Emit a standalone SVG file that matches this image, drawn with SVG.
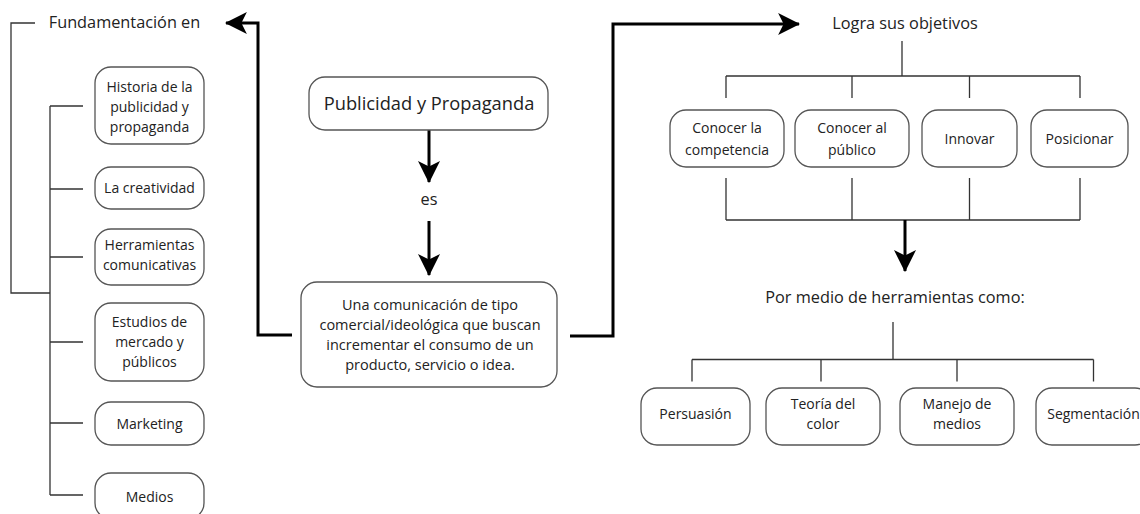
<svg xmlns="http://www.w3.org/2000/svg" width="1140" height="514" viewBox="0 0 1140 514">
<defs>
<marker id="ah" markerUnits="userSpaceOnUse" markerWidth="22" markerHeight="22" viewBox="0 0 20 20" refX="19" refY="10" orient="auto">
<path d="M0,0 L20,10 L0,20 L5,10 z" fill="#000"/>
</marker>
<style>
.box{fill:#fff;stroke:#555;stroke-width:1.3}
.t{font-family:"Open Sans","Noto Sans",sans-serif;font-size:14px;fill:#222;text-anchor:middle}
.h{font-family:"Open Sans","Noto Sans",sans-serif;font-size:16.3px;fill:#222;text-anchor:middle}
.thin{fill:none;stroke:#333;stroke-width:1.3}
.thick{fill:none;stroke:#000;stroke-width:3}
</style>
</defs>
<rect width="1140" height="514" fill="#fff"/>
<g id="connectors">
<path class="thin" d="M35,23 H11 V293 H50"/>
<path class="thin" d="M50,106 V495 M50,106 H83 M50,189 H83 M50,257 H83 M50,342 H83 M50,423 H83 M50,495 H83"/>
<path class="thick" d="M292,335 H258 V23 H226" marker-end="url(#ah)"/>
<path class="thick" d="M570,336 H613 V24 H799" marker-end="url(#ah)"/>
<path class="thick" d="M429,130 V182" marker-end="url(#ah)"/>
<path class="thick" d="M429,221 V275" marker-end="url(#ah)"/>
<path class="thin" d="M902,41 V76 M726,76 H1080 M726,76 V98 M852,76 V98 M969.5,76 V98 M1080,76 V98"/>
<path class="thin" d="M726,178 V220 M852,178 V220 M969.5,178 V220 M1080,178 V220 M726,220 H1080"/>
<path class="thick" d="M905,220 V271" marker-end="url(#ah)"/>
<path class="thin" d="M893,322 V359.5 M692,359.5 H1093.5 M692,359.5 V381.5 M821,359.5 V381.5 M957,359.5 V381.5 M1093.5,359.5 V381.5"/>
</g>
<g id="fundamentacion"><text class="h" x="124.5" y="28">Fundamentación en</text></g>
<g id="historia"><rect class="box" x="95" y="67" width="109" height="77" rx="16"/>
<text class="t" x="149.5" y="92">Historia de la</text><text class="t" x="149.5" y="112">publicidad y</text><text class="t" x="149.5" y="132">propaganda</text></g>
<g id="creatividad"><rect class="box" x="95" y="167" width="109" height="42" rx="16"/>
<text class="t" x="149.5" y="193">La creatividad</text></g>
<g id="herramientas"><rect class="box" x="95" y="229" width="109" height="56" rx="16"/>
<text class="t" x="149.5" y="250">Herramientas</text><text class="t" x="149.5" y="270">comunicativas</text></g>
<g id="estudios"><rect class="box" x="95" y="303" width="109" height="78" rx="16"/>
<text class="t" x="149.5" y="327">Estudios de</text><text class="t" x="149.5" y="347">mercado y</text><text class="t" x="149.5" y="367">públicos</text></g>
<g id="marketing"><rect class="box" x="95" y="402" width="109" height="43" rx="16"/>
<text class="t" x="149.5" y="429">Marketing</text></g>
<g id="medios"><rect class="box" x="95" y="473" width="109" height="46" rx="16"/>
<text class="t" x="149.5" y="502">Medios</text></g>
<g id="publicidad"><rect class="box" x="309" y="77" width="239" height="53" rx="16"/>
<text class="t" x="429" y="110" style="font-size:18.3px">Publicidad y Propaganda</text></g>
<g id="es"><text class="h" x="429" y="205">es</text></g>
<g id="definicion"><rect class="box" x="301" y="282" width="256" height="105" rx="16"/>
<text class="t" x="430" y="310" style="font-size:14.5px">Una comunicación de tipo</text><text class="t" x="430" y="330" style="font-size:14.5px">comercial/ideológica que buscan</text><text class="t" x="430" y="350" style="font-size:14.5px">incrementar el consumo de un</text><text class="t" x="430" y="370" style="font-size:14.5px">producto, servicio o idea.</text></g>
<g id="logra"><text class="h" x="905" y="29">Logra sus objetivos</text></g>
<g id="competencia"><rect class="box" x="670" y="110" width="114" height="57" rx="16"/>
<text class="t" x="727" y="133">Conocer la</text><text class="t" x="727" y="154.5">competencia</text></g>
<g id="publico"><rect class="box" x="795" y="110" width="114" height="57" rx="16"/>
<text class="t" x="852" y="133">Conocer al</text><text class="t" x="852" y="154.5">público</text></g>
<g id="innovar"><rect class="box" x="922" y="110" width="95" height="57" rx="16"/>
<text class="t" x="969.5" y="144">Innovar</text></g>
<g id="posicionar"><rect class="box" x="1031" y="110" width="97" height="57" rx="16"/>
<text class="t" x="1079.5" y="144">Posicionar</text></g>
<g id="pormedio"><text class="h" x="895" y="303">Por medio de herramientas como:</text></g>
<g id="persuasion"><rect class="box" x="641" y="388" width="109" height="57" rx="16"/>
<text class="t" x="695.5" y="419">Persuasión</text></g>
<g id="teoria"><rect class="box" x="766" y="388" width="114" height="57" rx="16"/>
<text class="t" x="823" y="409">Teoría del</text><text class="t" x="823" y="429">color</text></g>
<g id="manejo"><rect class="box" x="900" y="388" width="114" height="57" rx="16"/>
<text class="t" x="957" y="409">Manejo de</text><text class="t" x="957" y="429">medios</text></g>
<g id="segmentacion"><rect class="box" x="1036" y="388" width="115" height="57" rx="16"/>
<text class="t" x="1093.5" y="419">Segmentación</text></g>
</svg>
